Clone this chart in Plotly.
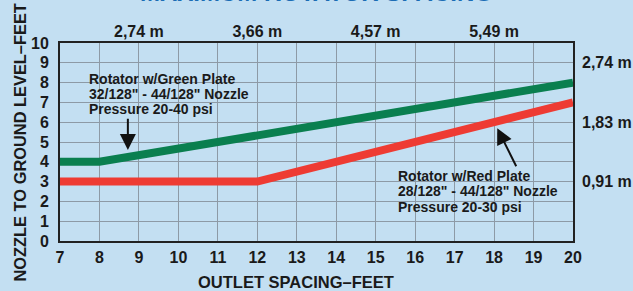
import plotly.graph_objects as go

# Data (feet)
green_x = [7, 8, 20]
green_y = [4, 4, 8]
red_x = [7, 12, 20]
red_y = [3, 3, 7]

x_ticks = list(range(7, 21))
y_ticks = list(range(0, 11))
top_vals = [9, 12, 15, 18]
top_text = ["2,74 m", "3,66 m", "4,57 m", "5,49 m"]
right_vals = [3, 6, 9]
right_text = ["0,91 m", "1,83 m", "2,74 m"]

green_label = ["Rotator w/Green Plate", "32/128\" - 44/128\" Nozzle", "Pressure 20-40 psi"]
red_label = ["Rotator w/Red Plate", "28/128\" - 44/128\" Nozzle", "Pressure 20-30 psi"]

BG = "#c3dff2"
GRID = "#8d9aa6"
FONT = "Liberation Sans, Arial, sans-serif"
TXT = "#1a1a1a"
TF = dict(size=16, family=FONT, color=TXT, weight="bold")

fig = go.Figure()
fig.add_trace(go.Scatter(x=red_x, y=red_y, mode="lines",
                         line=dict(color="#ee3b33", width=8), hoverinfo="skip"))
fig.add_trace(go.Scatter(x=green_x, y=green_y, mode="lines",
                         line=dict(color="#0a7f4f", width=8), hoverinfo="skip"))
# invisible trace for secondary axes
fig.add_trace(go.Scatter(x=[7, 20], y=[0, 10], xaxis="x2", yaxis="y2", mode="markers",
                         marker=dict(opacity=0), hoverinfo="skip"))

fig.update_layout(
    width=633, height=291,
    margin=dict(l=60, r=60, t=43, b=50, autoexpand=False),
    paper_bgcolor=BG, plot_bgcolor=BG,
    showlegend=False,
    font=dict(family=FONT, color=TXT),
    xaxis=dict(range=[7, 20], tickvals=x_ticks, showgrid=True, gridcolor=GRID, gridwidth=1,
               zeroline=False, showline=True, linecolor="#222", linewidth=2, mirror=True,
               tickfont=TF, ticks="", ticklabelstandoff=1, automargin=False),
    yaxis=dict(range=[0, 10], tickvals=y_ticks, showgrid=True, gridcolor=GRID, gridwidth=1,
               zeroline=False, showline=True, linecolor="#222", linewidth=2, mirror=True,
               tickfont=TF, ticks="", ticklabelstandoff=6, automargin=False),
    xaxis2=dict(range=[7, 20], overlaying="x", side="top", tickvals=top_vals, ticktext=top_text,
                showgrid=False, zeroline=False, showline=False, ticks="", automargin=False,
                ticklabelstandoff=2, tickfont=TF),
    yaxis2=dict(range=[0, 10], overlaying="y", side="right", tickvals=right_vals, ticktext=right_text,
                showgrid=False, zeroline=False, showline=False, ticks="", ticklabelstandoff=8,
                automargin=False, tickfont=TF),
)

ann = []
ann.append(dict(text="<b>MAXIMUM ROTATOR SPACING</b>", xref="paper", yref="paper", x=0.5, y=1.255,
                xanchor="center", yanchor="middle", showarrow=False,
                font=dict(size=24, color="#1b6db5", family=FONT)))
ann.append(dict(text="<b>OUTLET SPACING–FEET</b>", xref="paper", yref="paper", x=0.46, y=-0.208,
                xanchor="center", yanchor="middle", showarrow=False,
                font=dict(size=16.5, color=TXT, family=FONT)))
ann.append(dict(text="<b>NOZZLE TO GROUND LEVEL–FEET</b>", xref="paper", yref="paper",
                x=(19 - 60) / 513.0, xanchor="center", y=(241 - 142.5) / 198.0, yanchor="middle",
                textangle=-90, showarrow=False, font=dict(size=16.4, color=TXT, family=FONT)))

for i, line in enumerate(green_label):
    ann.append(dict(text="<b>" + line + "</b>", x=7.68, y=8.2 - i * 0.77, xanchor="left",
                    yanchor="middle", showarrow=False, font=dict(size=14, color=TXT, family=FONT)))
for i, line in enumerate(red_label):
    ann.append(dict(text="<b>" + line + "</b>", x=15.52, y=3.3 - i * 0.78, xanchor="left",
                    yanchor="middle", showarrow=False, font=dict(size=14, color=TXT, family=FONT)))

ann.append(dict(x=8.72, y=4.6, ax=8.72, ay=6.25, xref="x", yref="y", axref="x", ayref="y",
                text="", showarrow=True, arrowhead=2, arrowsize=1.6, arrowwidth=2, arrowcolor="#111"))
ann.append(dict(x=18.08, y=5.7, ax=18.58, ay=3.7, xref="x", yref="y", axref="x", ayref="y",
                text="", showarrow=True, arrowhead=2, arrowsize=1.6, arrowwidth=2, arrowcolor="#111"))

fig.update_layout(annotations=ann)
fig.write_html("out.html", config={"displayModeBar": False},
               post_script="document.body.style.margin='0';document.body.style.overflow='hidden';")
